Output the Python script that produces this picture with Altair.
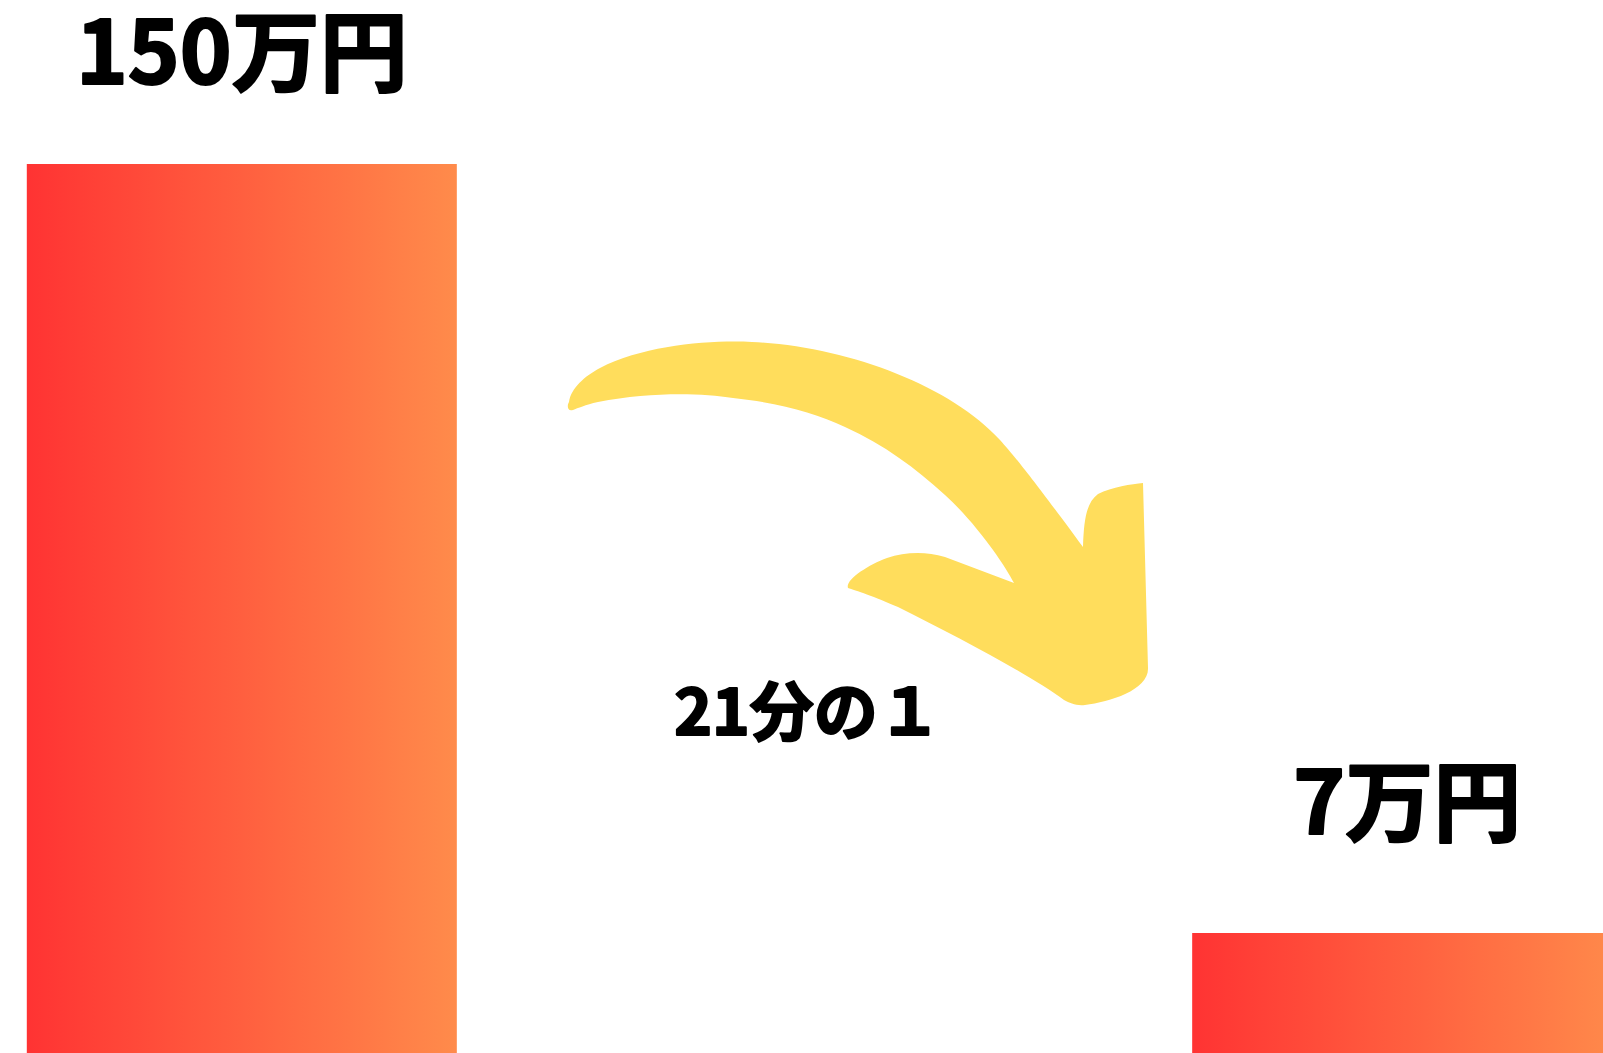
import altair as alt
import pandas as pd

# ---- data ----
categories = ["before", "after"]
values = [150, 7]
labels = ["150万円", "7万円"]
ratio_text = ["21分の１"]

df = pd.DataFrame({"cat": categories, "value": values, "label": labels})
ann = pd.DataFrame({"text": ratio_text})

W, H = 1603, 1053
FONT = "Noto Sans CJK JP"
WEIGHT = 700
TEXT_STYLE = dict(font=FONT, fontWeight=WEIGHT, color="#000000",
                  stroke="#000000", strokeWidth=2.2, strokeJoin="round",
                  baseline="alphabetic", align="center")

x_enc = alt.X(
    "cat:N",
    sort=categories,
    axis=None,
    scale=alt.Scale(range=[0, 1649], paddingInner=0.631, paddingOuter=0.023),
)
y_scale = alt.Scale(domain=[-15.3, 180.5], zero=False, nice=False)

grad = alt.LinearGradient(
    gradient="linear",
    stops=[
        alt.GradientStop(color="#ff3333", offset=0),
        alt.GradientStop(color="#ff8b4b", offset=1),
    ],
    x1=0, x2=1, y1=0, y2=0,
)

base = alt.Chart(df)

bars = base.mark_bar(color=grad, clip=True).encode(
    x=x_enc,
    y=alt.Y("value:Q", scale=y_scale, axis=None),
    y2=alt.datum(-40),
)

label_left = base.transform_filter(alt.datum.cat == "before").mark_text(
    fontSize=88, dy=-80, **TEXT_STYLE
).encode(x=x_enc, y=alt.Y("value:Q", scale=y_scale, axis=None), text="label:N")

label_right = base.transform_filter(alt.datum.cat == "after").mark_text(
    fontSize=88, dy=-99, **TEXT_STYLE
).encode(x=x_enc, y=alt.Y("value:Q", scale=y_scale, axis=None), text="label:N")

arrow_path = (
    "M 569 402 "
    "C 571 388, 585 376, 600 368 "
    "C 645 345, 710 340, 752 342 "
    "C 845 346, 950 385, 1000 440 "
    "C 1015 457, 1030 475, 1083 547 "
    "C 1084 520, 1086 503, 1098 494 "
    "C 1112 487, 1132 484, 1143 483 "
    "L 1148 668 "
    "C 1149 690, 1110 702, 1085 705 "
    "C 1076 706, 1070 703, 1064 700 "
    "C 1030 675, 960 638, 898 607 "
    "C 875 597, 855 590, 848 588 "
    "C 845 580, 868 565, 887 558 "
    "C 905 552, 925 551, 945 557 "
    "L 1014 583 "
    "C 1005 565, 975 522, 945 495 "
    "C 915 468, 885 445, 845 427 "
    "C 815 413, 780 403, 733 398 "
    "C 700 393, 650 392, 598 402 "
    "C 585 405, 578 408, 573 410 "
    "C 567 412, 567 405, 569 402 Z"
)

arrow = alt.Chart(ann).mark_point(
    shape=arrow_path, filled=True, color="#ffdd5c", opacity=1,
    strokeWidth=0, size=4,
).encode(x=alt.value(0), y=alt.value(0))

ratio = alt.Chart(ann).mark_text(fontSize=64, **TEXT_STYLE).encode(
    x=alt.value(808), y=alt.value(735), text="text:N"
)

chart = alt.layer(bars, arrow, label_left, label_right, ratio).properties(
    width=W, height=H, padding=0, autosize=alt.AutoSizeParams(type="none"),
    background="#ffffff",
).configure_view(stroke=None)

chart.save("out.html", embed_options={"renderer": "svg", "actions": False})
